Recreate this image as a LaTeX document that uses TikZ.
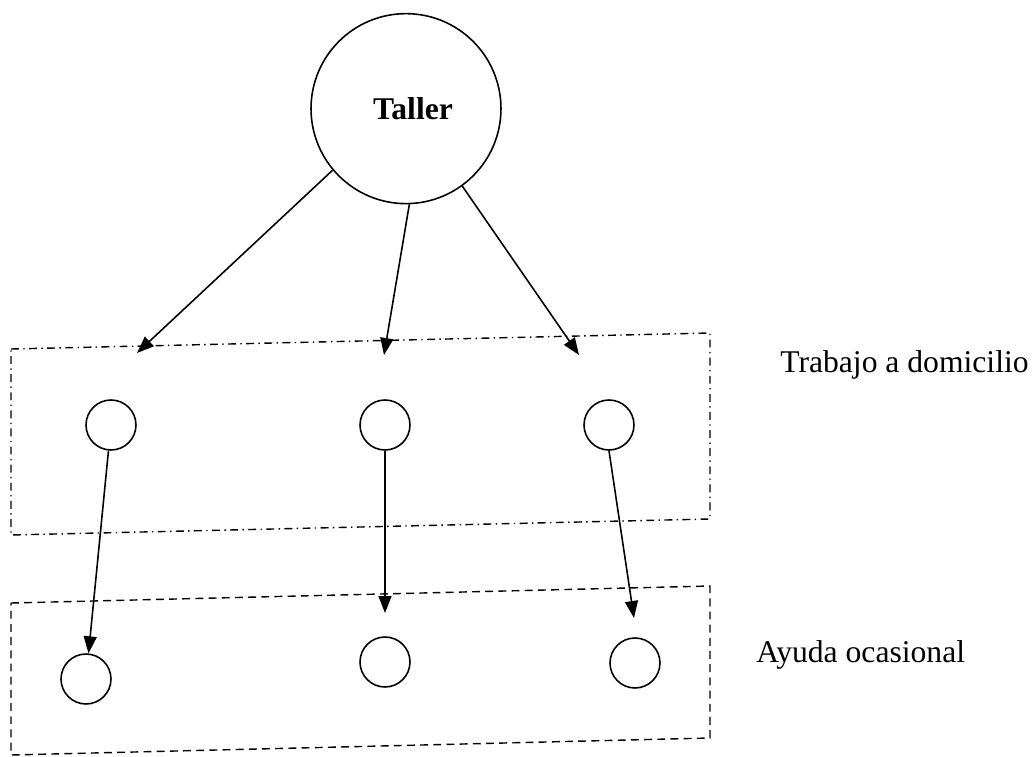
\documentclass[tikz,border=0pt]{standalone}
\usepackage{fontspec}
\setmainfont{Liberation Serif}
\usetikzlibrary{arrows.meta}

\begin{document}
\begin{tikzpicture}[
    x=0.02cm, y=-0.02cm,
    font=\fontsize{18}{22}\selectfont,
    bigcircle/.style={circle, draw, line width=0.9pt, minimum size=3.8cm, font=\fontsize{18}{22}\selectfont\bfseries},
    smallcircle/.style={circle, draw, line width=0.9pt, minimum size=1cm, inner sep=0pt},
    grouplabel/.style={anchor=base west, inner sep=0pt},
    arrow/.style={-{Triangle[length=0.34cm, width=0.26cm]}, line width=0.9pt},
    dashdotbox/.style={line width=0.8pt, dash pattern=on 4.5pt off 2.5pt on 0.8pt off 2.5pt},
    dashedbox/.style={line width=0.8pt, dash pattern=on 4.5pt off 3pt}
]
\useasboundingbox (0,0) rectangle (1036,757);

% Workshop
\node[bigcircle, text depth=0pt, yshift=-1.5pt] (taller) at (406,106) {\hspace{8pt}Taller};

% Home workers
\node[smallcircle] (t1) at (111,425) {};
\node[smallcircle] (t2) at (385,425) {};
\node[smallcircle] (t3) at (609,425) {};

% Occasional help
\node[smallcircle] (a1) at (86,679) {};
\node[smallcircle] (a2) at (385,662) {};
\node[smallcircle] (a3) at (635,663) {};

% Arrow ends
\coordinate (p1) at (137,353);
\coordinate (p2) at (384,355);
\coordinate (p3) at (579,355);
\coordinate (q2) at (385,613);
\coordinate (q3) at (634,618);

% Arrows
\draw[arrow] (taller.220) -- (p1);
\draw[arrow] (taller.272) -- (p2);
\draw[arrow] (taller.306) -- (p3);
\draw[arrow] (t1) -- (a1);
\draw[arrow] (t2.south) -- (q2);
\draw[arrow] (t3.south) -- (q3);

% Group boxes
\draw[dashdotbox] (11,349) -- (710,333) -- (710,519) -- (11,535) -- cycle;
\draw[dashedbox] (11,603) -- (710,586) -- (710,738) -- (11,755) -- cycle;

% Labels
\node[grouplabel] (trabajo) at (780,373) {Trabajo a domicilio};
\node[grouplabel] (ayuda) at (756,662) {Ayuda ocasional};

\end{tikzpicture}
\end{document}
